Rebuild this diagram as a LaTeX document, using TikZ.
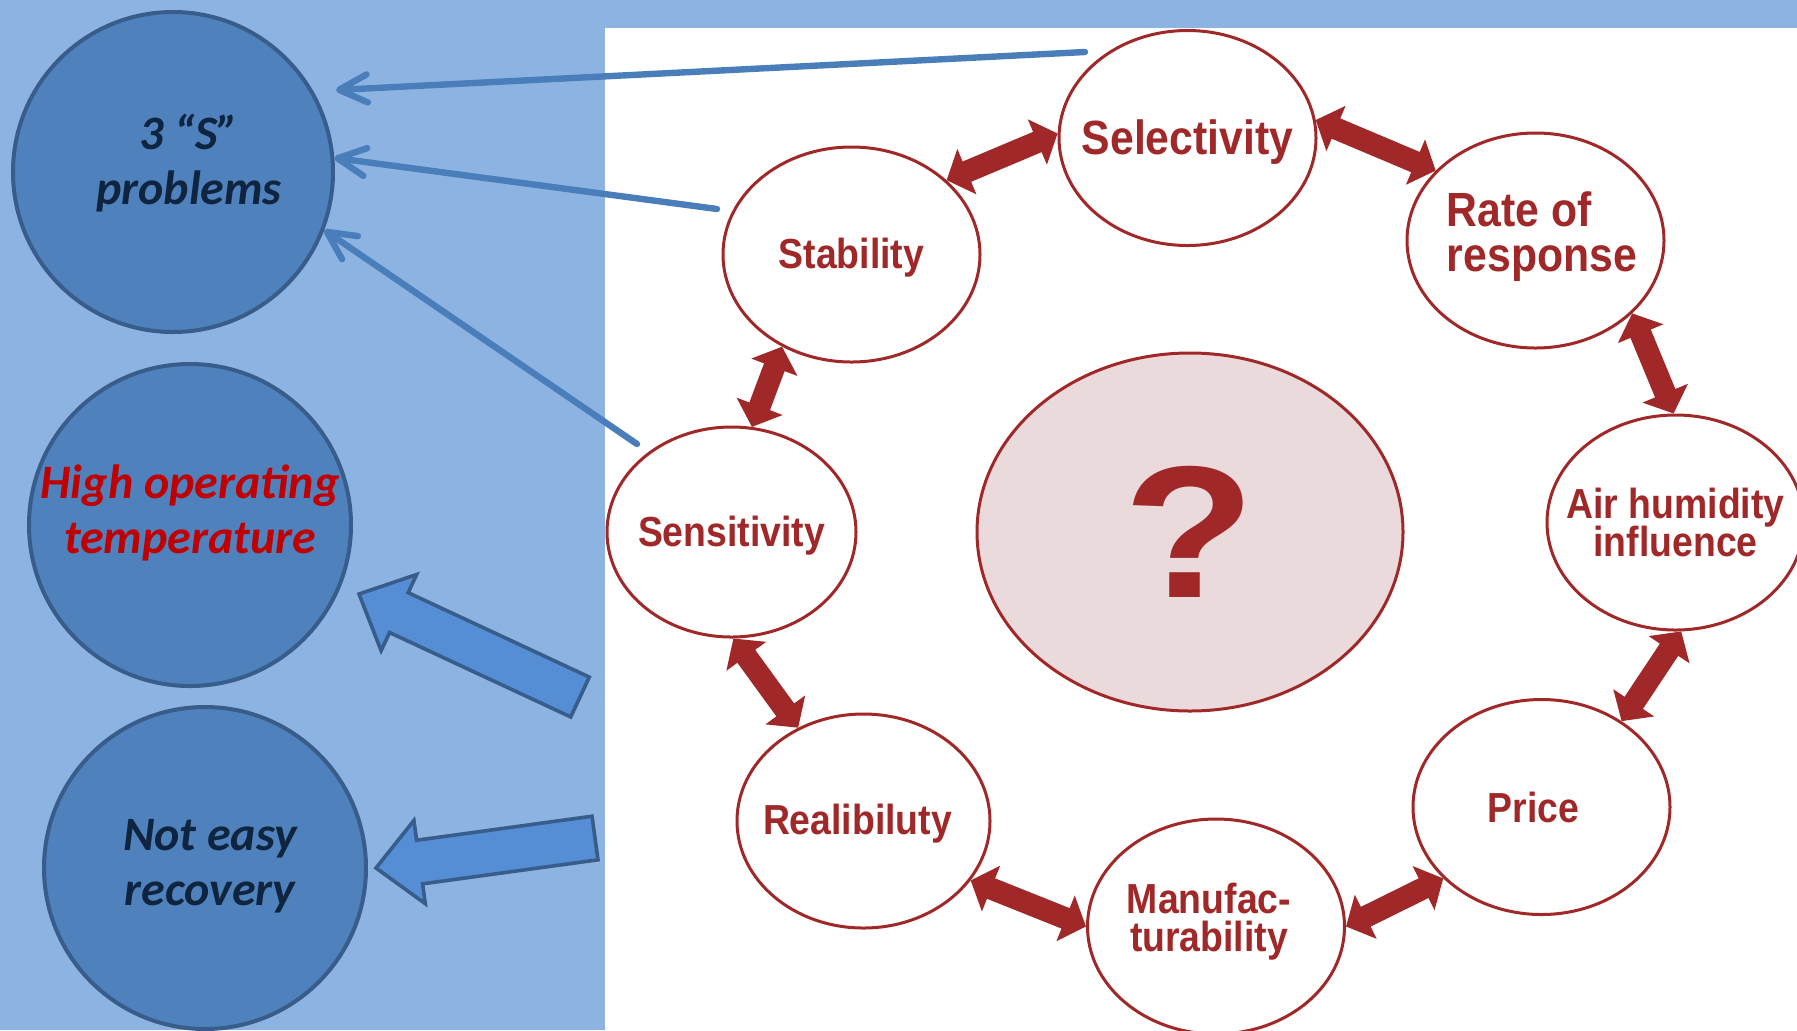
\documentclass[tikz,border=0pt]{standalone}
\usepackage{fontspec}
\usepackage{graphicx}
\setmainfont{Liberation Sans}
\newfontfamily\calfont{Carlito}
\usetikzlibrary{arrows.meta,calc,shapes.geometric}
\definecolor{bgblue}{RGB}{141,179,226}
\definecolor{cfill}{RGB}{79,129,189}
\definecolor{cdraw}{RGB}{56,93,138}
\definecolor{navy}{RGB}{15,36,62}
\definecolor{hotred}{RGB}{192,0,0}
\definecolor{arrfill}{RGB}{85,142,213}
\definecolor{thinblue}{RGB}{74,126,187}
\definecolor{dred}{RGB}{160,40,40}
\definecolor{pinkfill}{RGB}{235,218,219}
\newcommand\sqz[1]{\scalebox{0.89}[1]{#1}}
\newcommand\nolsk{\lineskiplimit=-100pt\relax}
% block arrow: #1 tip, #2 tail centre, #3 prefix
\newcommand\blockarr[3]{%
  \coordinate (#3h) at ($(#1)!11pt!(#2)$);
  \filldraw[bluearrow] (#1)
    -- ($(#3h)!10.5pt!90:(#2)$) -- ($(#3h)!5.5pt!90:(#2)$)
    -- ($(#2)!5.5pt!-90:(#1)$) -- ($(#2)!5.5pt!90:(#1)$)
    -- ($(#3h)!5.5pt!-90:(#2)$) -- ($(#3h)!10.5pt!-90:(#2)$) -- cycle;}
\begin{document}
\begin{tikzpicture}[x=0.25pt,y=-0.25pt,
  leftcirc/.style={circle,fill=cfill,draw=cdraw,line width=1pt,minimum size=80.5pt,inner sep=0pt},
  lefttxt/.style={align=center,inner sep=0pt,text=navy,font=\calfont\bfseries\itshape\fontsize{12}{13.9}\selectfont},
  bluearrow/.style={fill=arrfill,draw=cdraw,line width=0.9pt,line join=miter},
  thinarrow/.style={draw=thinblue,line width=1.6pt,line cap=round,-{Straight Barb[length=7pt,width=7pt,round]}},
  prop/.style={ellipse,draw=dred,line width=0.75pt,fill=white,minimum width=64.25pt,minimum height=53.75pt,inner sep=0pt},
  bigtxt/.style={inner sep=0pt,text=dred,font=\bfseries\fontsize{12}{11.25}\selectfont\nolsk},
  smalltxt/.style={inner sep=0pt,text=dred,align=center,font=\bfseries\fontsize{10.5}{9.6}\selectfont\nolsk},
  core/.style={ellipse,draw=dred,line width=0.75pt,fill=pinkfill,minimum width=106.5pt,minimum height=89.5pt,inner sep=0pt,text=dred,font=\bfseries\fontsize{47}{47}\selectfont},
  dbl/.style={draw=dred,line width=5.5pt,{Triangle[length=5.5pt,width=12pt]}-{Triangle[length=5.5pt,width=12pt]}}
]
\useasboundingbox (0,0) rectangle (1797,1030);
\clip (0,0) rectangle (1797,1030);
\fill[bgblue] (0,0) rectangle (1797,1030);
\fill[white] (605,28) rectangle (1797,1030);

% left circles
\node[leftcirc,minimum size=80pt] (c1) at (173,172) {};
\node[leftcirc] (c2) at (190,525) {};
\node[leftcirc] (c3) at (205,868) {};
\node[lefttxt] (t1) at (189,163) {3 “S”\\problems};
\node[lefttxt,text=hotred] (t2) at (190,513) {High operating\\temperature};
\node[lefttxt] (t3) at (210,866) {Not easy\\recovery};

% block arrows
\coordinate (ba1tip) at (359,594);
\coordinate (ba1tail) at (580,697);
\coordinate (ba2tip) at (376,868);
\coordinate (ba2tail) at (595,838);
\blockarr{ba1tip}{ba1tail}{ba1}
\blockarr{ba2tip}{ba2tail}{ba2}

% thin arrows
\coordinate (s1) at (1085,52);
\coordinate (e1) at (336,90);
\coordinate (s2) at (717,209);
\coordinate (s3) at (637,444);
\draw[thinarrow] (s1) -- (e1);
\draw[thinarrow] (s2) -- (c1.5);
\draw[thinarrow] (s3) -- (c1.-21);

% right diagram
\node[core] (core) at (1190,532) {\scalebox{1.15}[1]{?}};
\node[prop,label={[smalltxt,yshift=-0.9pt]center:\sqz{Stability}}] (stab) at (851.5,254.5) {};
\node[prop,label={[bigtxt,yshift=-1.1pt]center:\sqz{Selectivity}}] (sel) at (1187.5,138) {};
\node[prop,label={[bigtxt,align=left,xshift=1.6pt,yshift=1pt]center:\sqz{Rate of}\\\sqz{response}}] (rate) at (1535.5,240.5) {};
\node[prop,label={[smalltxt]center:\sqz{Air humidity}\\\sqz{influence}}] (air) at (1675.5,522.5) {};
\node[prop,label={[smalltxt,xshift=-2pt]center:\sqz{Price}}] (price) at (1541.5,807) {};
\node[prop,label={[smalltxt,xshift=-1.75pt,yshift=1.25pt]center:\sqz{Manufac-}\\\sqz{turability}}] (manuf) at (1216,926.5) {};
\node[prop,minimum width=63.25pt,minimum height=53.5pt,label={[smalltxt,xshift=-1.5pt,yshift=-0.6pt]center:\sqz{Realibiluty}}] (realib) at (863.5,821) {};
\node[prop,minimum width=62.25pt,minimum height=52.5pt,label={[smalltxt,yshift=-0.9pt]center:\sqz{Sensitivity}}] (sens) at (731.5,532) {};

\draw[dbl] (stab.38) -- (sel.178);
\draw[dbl] (sel.8) -- (rate.145);
\draw[dbl] (rate.-37) -- (air.91);
\draw[dbl] (air.-87) -- (price.47);
\draw[dbl] (price.216) -- (manuf.0);
\draw[dbl] (manuf.180) -- (realib.-29);
\draw[dbl] (realib.125) -- (sens.-89);
\draw[dbl] (sens.79) -- (stab.233);
\end{tikzpicture}
\end{document}
